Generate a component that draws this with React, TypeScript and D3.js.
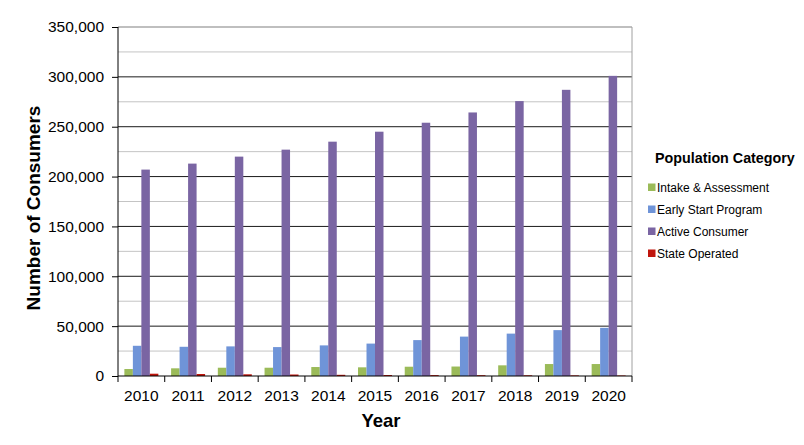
import { useEffect, useRef } from "react";
import * as d3 from "d3";

const years = ["2010", "2011", "2012", "2013", "2014", "2015", "2016", "2017", "2018", "2019", "2020"];
const intake = [7000, 7700, 8300, 8300, 9000, 8700, 9300, 9500, 10700, 12000, 12000];
const earlyStart = [30300, 29300, 29700, 29000, 30700, 32500, 36000, 39500, 42500, 46000, 48300];
const active = [207000, 213000, 220000, 227000, 235000, 245000, 254000, 264300, 275700, 287000, 301000];
const stateOperated = [2300, 2000, 1700, 1500, 1200, 1000, 900, 800, 700, 600, 500];

const seriesNames = ["Intake & Assessment", "Early Start Program", "Active Consumer", "State Operated"];
const seriesColors = ["#9BBB59", "#6F94D8", "#7A65A3", "#C0150C"];
const yTicks = [0, 50000, 100000, 150000, 200000, 250000, 300000, 350000];

export default function App() {
  const svgRef = useRef<SVGSVGElement>(null);

  useEffect(() => {
    if (!svgRef.current) return;
    const W = 804, H = 445;
    const margin = { top: 27, right: 172, bottom: 69, left: 118 };
    const innerW = W - margin.left - margin.right;
    const innerH = H - margin.top - margin.bottom;
    const font = "'Liberation Sans', Arial, sans-serif";

    const root = d3.select(svgRef.current);
    root.selectAll("*").remove();
    root.attr("width", W).attr("height", H).attr("viewBox", `0 0 ${W} ${H}`);

    const g = root.append("g").attr("transform", `translate(${margin.left},${margin.top})`);

    const x0 = d3.scaleBand<string>().domain(years).range([0, innerW]).paddingInner(0).paddingOuter(0);
    const x1 = d3.scaleBand<number>().domain([0, 1, 2, 3]).range([0, x0.bandwidth()]).paddingOuter(0.75);
    const y = d3.scaleLinear().domain([0, 350000]).range([innerH, 0]);

    const data = [intake, earlyStart, active, stateOperated];

    // minor gridlines
    const minor = d3.range(25000, 350000, 50000);
    g.selectAll(".minor").data(minor).enter().append("line")
      .attr("x1", 0).attr("x2", innerW)
      .attr("y1", d => y(d)).attr("y2", d => y(d))
      .attr("stroke", "#c4c4c4").attr("stroke-width", 1);

    // major gridlines
    g.selectAll(".major").data(yTicks.filter(t => t > 0 && t < 350000)).enter().append("line")
      .attr("x1", 0).attr("x2", innerW)
      .attr("y1", d => y(d)).attr("y2", d => y(d))
      .attr("stroke", "#1a1a1a").attr("stroke-width", 1);

    // top & right border
    g.append("line").attr("x1", 0).attr("x2", innerW).attr("y1", y(350000)).attr("y2", y(350000))
      .attr("stroke", "#808080").attr("stroke-width", 1.2);
    g.append("line").attr("x1", innerW).attr("x2", innerW).attr("y1", 0).attr("y2", innerH)
      .attr("stroke", "#a0a0a0").attr("stroke-width", 1);

    // bars
    years.forEach((yr, i) => {
      data.forEach((s, k) => {
        g.append("rect")
          .attr("x", (x0(yr) ?? 0) + (x1(k) ?? 0))
          .attr("y", y(s[i]))
          .attr("width", x1.bandwidth())
          .attr("height", innerH - y(s[i]))
          .attr("fill", seriesColors[k]);
      });
    });

    // y axis
    const yAxis = d3.axisLeft(y).tickValues(yTicks).tickSize(6).tickPadding(8)
      .tickFormat(d => d3.format(",")(Number(d)));
    const ya = g.append("g").call(yAxis);
    ya.selectAll("text").style("font-family", font).style("font-size", "15.5px").attr("fill", "#000");
    ya.selectAll(".domain, .tick line").attr("stroke", "#000");
    ya.select(".domain").attr("d", `M0,0V${innerH}`);

    // x axis
    const xa = g.append("g").attr("transform", `translate(0,${innerH})`);
    xa.append("line").attr("x1", 0).attr("x2", innerW).attr("stroke", "#000");
    xa.selectAll(".xt").data(d3.range(years.length + 1)).enter().append("line")
      .attr("x1", d => d * x0.step()).attr("x2", d => d * x0.step())
      .attr("y1", 0).attr("y2", 6).attr("stroke", "#000");
    xa.selectAll(".xl").data(years).enter().append("text")
      .attr("x", d => (x0(d) ?? 0) + x0.bandwidth() / 2)
      .attr("y", 25)
      .attr("text-anchor", "middle")
      .style("font-family", font).style("font-size", "15.5px")
      .text(d => d);

    // axis titles
    root.append("text")
      .attr("transform", `translate(40,208) rotate(-90)`)
      .attr("text-anchor", "middle")
      .style("font-family", font).style("font-size", "19px").style("font-weight", "bold")
      .text("Number of Consumers");
    root.append("text")
      .attr("x", 381).attr("y", 427)
      .attr("text-anchor", "middle")
      .style("font-family", font).style("font-size", "18.5px").style("font-weight", "bold")
      .text("Year");

    // legend
    const lg = root.append("g").attr("transform", "translate(648,0)");
    lg.append("text").attr("x", 7).attr("y", 163)
      .style("font-family", font).style("font-size", "14.3px").style("font-weight", "bold")
      .text("Population Category");
    seriesNames.forEach((n, k) => {
      const yy = 192 + k * 22;
      lg.append("rect").attr("x", 0).attr("y", yy - 8.5).attr("width", 7.5).attr("height", 7.5).attr("fill", seriesColors[k]);
      lg.append("text").attr("x", 9).attr("y", yy)
        .style("font-family", font).style("font-size", "12px")
        .text(n);
    });
  }, []);

  return (
    <svg ref={svgRef} style={{ position: "absolute", left: 0, top: 0, display: "block" }} />
  );
}
